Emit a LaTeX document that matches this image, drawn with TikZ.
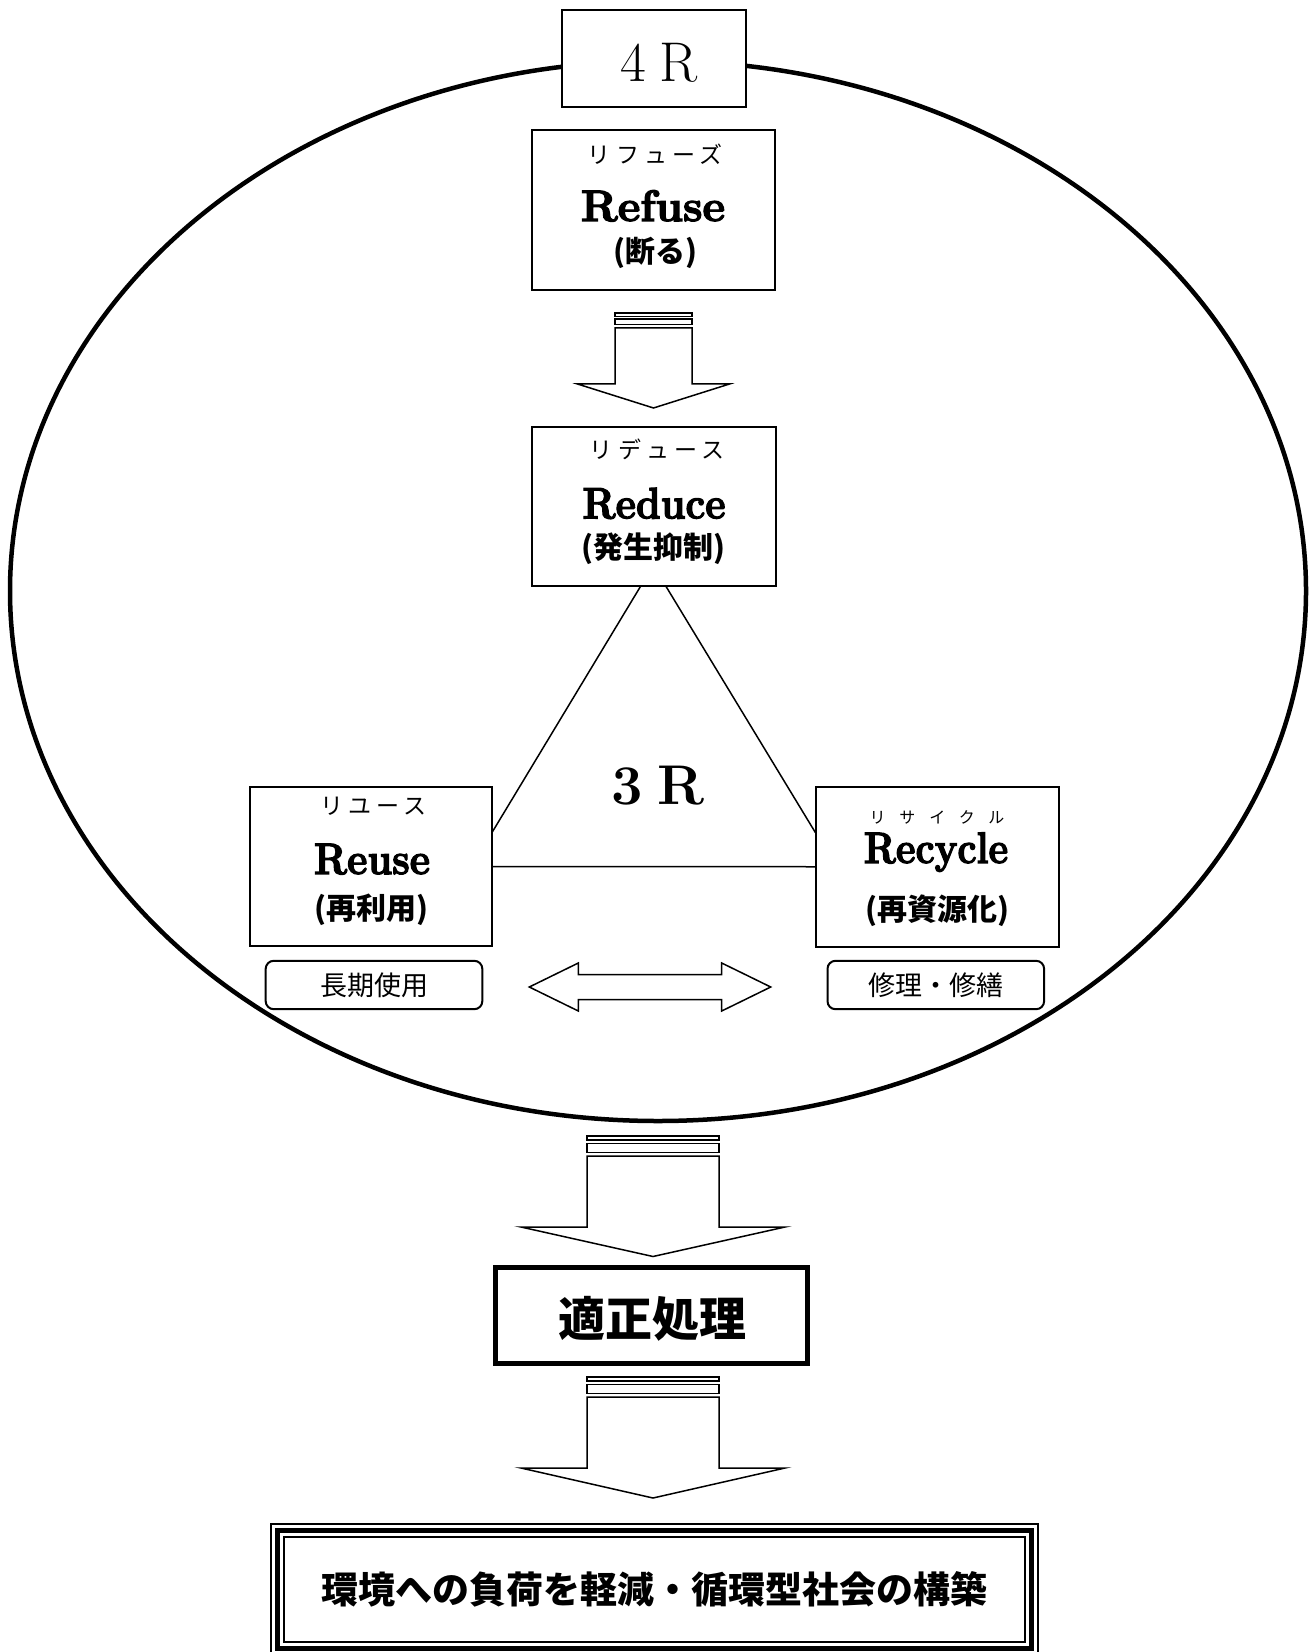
\documentclass[tikz,border=0pt]{standalone}
\usepackage{fontspec}
\usepackage{graphicx}
\usetikzlibrary{shapes.geometric,calc}
\newfontfamily\jp{Noto Sans CJK JP}
\newfontfamily\heavyserif[FakeBold=3]{Latin Modern Roman}
\begin{document}
\begin{tikzpicture}[x=0.5pt,y=-0.5pt,
  frame/.style={draw,line width=1pt,fill=white,inner sep=0pt,outer sep=0pt},
  kana/.style={inner sep=0pt,font=\jp\fontsize{11.5}{13}\selectfont\addfontfeature{LetterSpace=22}},
  smallkana/.style={inner sep=0pt,font=\jp\fontsize{8}{10}\selectfont\addfontfeature{LetterSpace=87}},
  word/.style={anchor=base,inner sep=0pt,font=\heavyserif\bfseries\fontsize{22}{26}\selectfont},
  gloss/.style={inner sep=0pt,font=\jp\bfseries\fontsize{15}{18}\selectfont},
  tag/.style={draw,line width=1pt,rounded corners=4pt,inner sep=0pt,outer sep=0pt,
    minimum width=108.3pt,minimum height=24.2pt,font=\jp\fontsize{13.5}{16}\selectfont},
  thinline/.style={line width=0.75pt},
  arrowline/.style={line width=0.75pt,fill=white,line join=miter},
  pics/blockarrow/.style n args={8}{code={
    % two flat bands, then the shaft and the head
    \draw[arrowline] (-#1,0) rectangle (#1,#3);
    \draw[arrowline] (-#1,#4) rectangle (#1,#5);
    \draw[arrowline] (-#1,#6) -- (-#1,#7) -- (-#2,#7) -- (0,#8) -- (#2,#7)
      -- (#1,#7) -- (#1,#6) -- cycle;
  }}
]
\useasboundingbox (0,0) rectangle (1315,1652);

% the 4R ring
\node[ellipse,draw,line width=2.25pt,inner sep=0pt,outer sep=0pt,
  minimum width=648pt,minimum height=530pt] (ring) at (658,591) {};
\node[frame,minimum width=92pt,minimum height=48.5pt] (fourR) at (654,58.5) {};
\node[anchor=base,inner sep=0pt,font=\fontsize{28}{30}\selectfont] (fourRlabel) at (659,81.7) {4\hspace{7pt}R};

% Refuse
\node[frame,minimum width=121.75pt,minimum height=80pt] (refuse) at (653.25,210.5) {};
\node[kana] (refuseKana) at (655,154) {リフューズ};
\node[word] (refuseWord) at (653,221) {\scalebox{1.0}[1]{Refuse}};
\node[gloss] (refuseGloss) at (655,253) {(断る)};

% Reduce
\node[frame,minimum width=121.75pt,minimum height=79.65pt] (reduce) at (653.75,506.35) {};
\node[kana] (reduceKana) at (657,449) {リデュース};
\node[word] (reduceWord) at (654,518.4) {\scalebox{0.9}[1]{Reduce}};
\node[gloss] (reduceGloss) at (653,549) {(発生抑制)};

% Reuse
\node[frame,minimum width=121pt,minimum height=79.5pt] (reuse) at (371,866.5) {};
\node[kana] (reuseKana) at (373.5,806) {リユース};
\node[word] (reuseWord) at (372,874) {\scalebox{0.9}[1]{Reuse}};
\node[gloss] (reuseGloss) at (371.5,910) {(再利用)};

% Recycle
\node[frame,minimum width=121.5pt,minimum height=79.75pt] (recycle) at (937,866.75) {};
\node[smallkana] (recycleKana) at (937,817) {リサイクル};
\node[word] (recycleWord) at (936,863) {\scalebox{0.87}[1]{Recycle}};
\node[gloss] (recycleGloss) at (937,911) {(再資源化)};

% the 3R triangle
\draw[thinline] ([xshift=-6.5pt]reduce.south) -- ([yshift=17pt]reuse.east);
\draw[thinline] ([xshift=6pt]reduce.south) -- ([yshift=17pt]recycle.west);
\draw[thinline] (reuse.east) -- (recycle.west);
\node[anchor=base,inner sep=0pt,font=\fontsize{28}{30}\selectfont\bfseries] (threeR) at (658,804) {3\hspace{7pt}R};

% notes under Reuse and Recycle
\node[tag] (longuse) at (374,985) {長期使用};
\node[tag] (repair) at (935.8,985) {修理・修繕};

% two-headed arrow between the notes
\coordinate (swap) at (650,987);
\draw[arrowline,shift={(swap)}] (-120.7,0) -- (-71.7,-24) -- (-71.7,-12.5) -- (71.7,-12.5)
  -- (71.7,-24) -- (120.7,0) -- (71.7,24) -- (71.7,12.5) -- (-71.7,12.5) -- (-71.7,24) -- cycle;

% proper disposal
\node[draw,line width=2.5pt,inner sep=0pt,outer sep=0pt,minimum width=156pt,minimum height=48pt] (tekisei) at (651.5,1315) {};
\node[inner sep=0pt,font=\jp\bfseries\fontsize{23.5}{26}\selectfont] (tekiseiText) at (652,1319) {適正処理};

% goal with triple frame
\node[draw,line width=1pt,inner sep=0pt,outer sep=0pt,minimum width=370.25pt,minimum height=52.25pt,
  font=\jp\bfseries\fontsize{18.5}{22}\selectfont] (goal) at (654.25,1589.25) {環境への負荷を軽減・循環型社会の構築};
\draw[line width=2.5pt] ($(goal.north west)+(-6.5,-6.5)$) rectangle ($(goal.south east)+(6.5,6.5)$);
\draw[line width=1pt] ($(goal.north west)+(-13,-13)$) rectangle ($(goal.south east)+(13,13)$);

% block arrows
\coordinate (arrowA) at ($(refuse.south)+(0.25,22.5)$);
\coordinate (arrowB) at ($(tekisei.north)+(1.5,-131)$);
\coordinate (arrowC) at ($(goal.north)+(-1.25,-160)$);
\pic at (arrowA) {blockarrow={38.5}{76}{3.5}{6}{11.5}{15}{71}{95}};
\pic at (arrowB) {blockarrow={66}{132}{4}{7.5}{16.5}{20}{91}{120.5}};
\pic at (arrowC) {blockarrow={66}{132}{4}{7.5}{16.5}{20}{91}{121}};
\end{tikzpicture}
\end{document}
